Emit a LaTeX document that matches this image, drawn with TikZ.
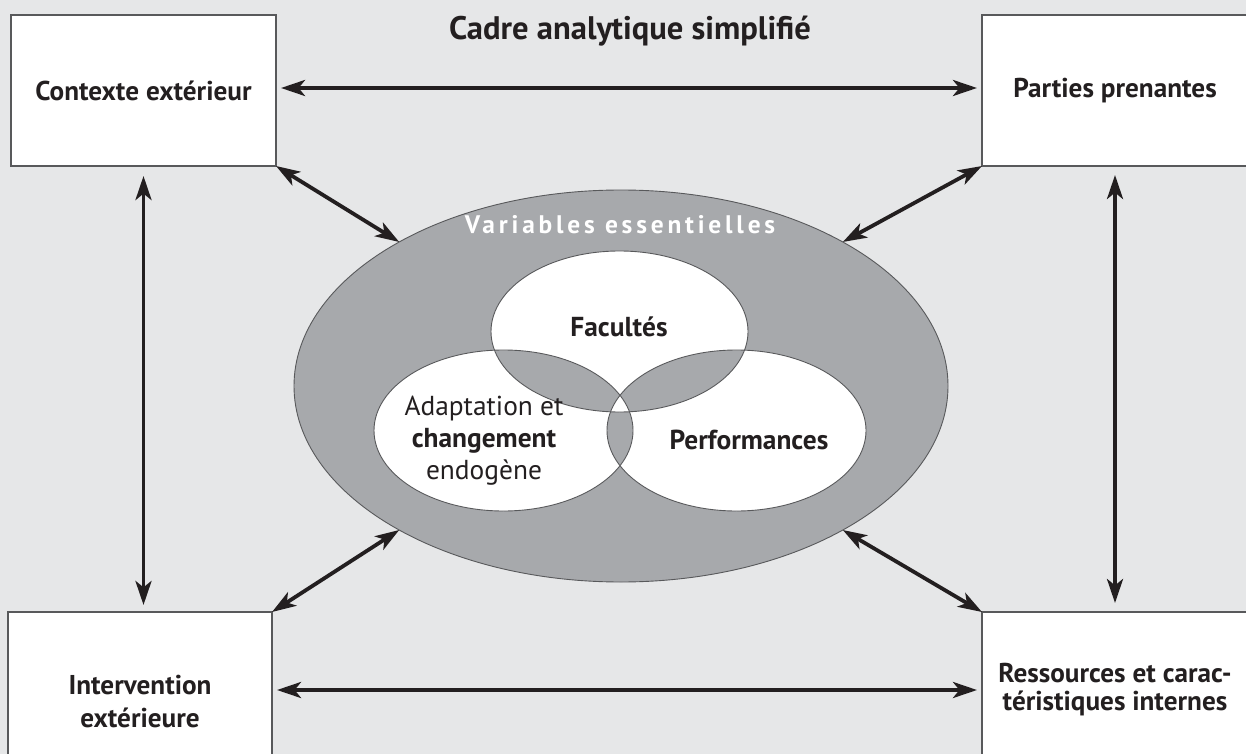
\documentclass[tikz,border=0pt]{standalone}
\usepackage{fontspec}
\setmainfont{PT Sans}
\newfontfamily\spacedfont[LetterSpace=15]{PT Sans}
\usetikzlibrary{arrows.meta,shapes.geometric}
\definecolor{bg}{HTML}{E6E7E8}
\definecolor{ring}{HTML}{A7A9AC}
\definecolor{ink}{HTML}{231F20}
\definecolor{edge}{HTML}{58595B}
\begin{document}
\begin{tikzpicture}[x=0.5pt,y=-0.5pt,
  box/.style={draw=edge, line width=0.6pt, fill=white, rectangle, inner sep=0pt, outer sep=0pt, align=center, font=\bfseries\fontsize{13.6}{14}\selectfont, text=ink},
  arr/.style={draw=ink, line width=1.9pt, {Stealth[length=12pt,width=8pt,inset=3.2pt]}-{Stealth[length=12pt,width=8pt,inset=3.2pt]}},
  venn/.style={ellipse, draw=edge, line width=0.45pt, inner sep=0pt, outer sep=0pt},
  lbl/.style={font=\fontsize{13.7}{16}\selectfont, text=ink, align=center, inner sep=0pt}
]
\useasboundingbox (0,0) rectangle (1246,754);
\clip (0,0) rectangle (1246,754);
\fill[bg] (0,0) rectangle (1246,754);

% title
\node[font=\bfseries\fontsize{16.3}{18}\selectfont, text=ink] (title) at (630,31) {Cadre analytique simplifié};

% boxes
\node[box, minimum width=132.5pt, minimum height=75.5pt] (ctx) at (143.5,90.5) {Contexte extérieur};
\node[box, minimum width=133pt, minimum height=75.5pt] (pp) at (1115,90.5) {Parties prenantes};
\node[box, font=\bfseries\fontsize{13.6}{16.5}\selectfont, minimum width=132pt, minimum height=90pt] (iv) at (140,702) {Intervention\\extérieure};
\node[box, minimum width=133pt, minimum height=78pt] (rs) at (1115,690) {Ressources et carac-\\téristiques internes};

% big ellipse
\node[ellipse, fill=ring, draw=edge, line width=0.45pt, minimum width=327pt, minimum height=196pt, inner sep=0pt, outer sep=0pt] (ve) at (621,386) {};

% venn white fill (odd regions)
\fill[white, even odd rule]
  (619.5,331.5) ellipse [x radius=64.25pt, y radius=40.25pt]
  (503.5,430.5) ellipse [x radius=64.75pt, y radius=40.25pt]
  (736.5,430.5) ellipse [x radius=64.75pt, y radius=40.25pt];

\node[venn, minimum width=128.5pt, minimum height=80.5pt] (fa) at (619.5,331.5) {};
\node[venn, minimum width=129.5pt, minimum height=80.5pt] (ad) at (503.5,430.5) {};
\node[venn, minimum width=129.5pt, minimum height=80.5pt] (pe) at (736.5,430.5) {};

% labels
\node[text=white, inner sep=0pt] (tve) at (620,225) {\spacedfont\bfseries\fontsize{12.7}{14}\selectfont Variables essentielles};
\node[lbl, font=\bfseries\fontsize{13.7}{16}\selectfont] (tfa) at (619,327) {Facultés};
\node[lbl] (tad) at (484,441) {Adaptation et\\\textbf{changement}\\endogène};
\node[lbl, font=\bfseries\fontsize{13.7}{16}\selectfont] (tpe) at (749,440) {Performances};

% arrows
\draw[arr, shorten <=2.5pt, shorten >=2.5pt] ([yshift=1.25pt]ctx.east) -- ([yshift=1.25pt]pp.west);
\draw[arr, shorten <=2.5pt, shorten >=2.5pt] (iv.east |- rs.west) -- (rs.west);
\draw[arr, shorten <=5pt, shorten >=3.5pt] (ctx.south) -- (ctx.south |- iv.north);
\draw[arr, shorten <=4.5pt, shorten >=4.5pt] (pp.south) -- (pp.south |- rs.north);
\draw[arr] (ctx.south east) -- (ve.147);
\draw[arr] (pp.south west) -- (ve.33);
\draw[arr] (iv.north east) -- (ve.213);
\draw[arr] (rs.north west) -- (ve.327);
\end{tikzpicture}
\end{document}
